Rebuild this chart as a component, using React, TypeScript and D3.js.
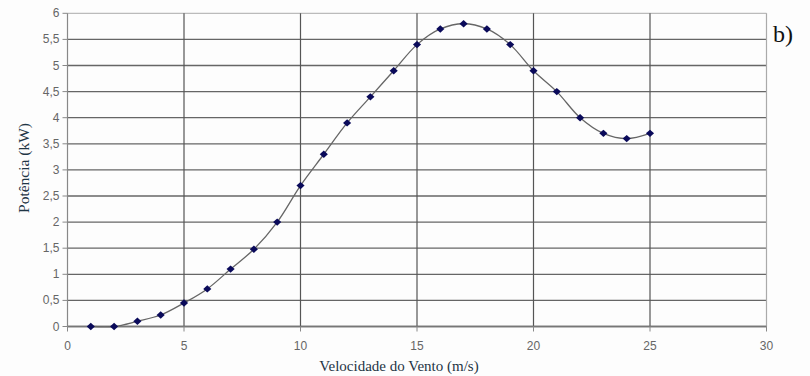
import React from "react";
import * as d3 from "d3";

const windSpeed = [1, 2, 3, 4, 5, 6, 7, 8, 9, 10, 11, 12, 13, 14, 15, 16, 17, 18, 19, 20, 21, 22, 23, 24, 25];
const power = [0, 0, 0.1, 0.22, 0.45, 0.72, 1.1, 1.48, 2.0, 2.7, 3.3, 3.9, 4.4, 4.9, 5.4, 5.7, 5.8, 5.7, 5.4, 4.9, 4.5, 4.0, 3.7, 3.6, 3.7];
const xTicks = [0, 5, 10, 15, 20, 25, 30];
const yTicks = [0, 0.5, 1, 1.5, 2, 2.5, 3, 3.5, 4, 4.5, 5, 5.5, 6];
const xTitle = "Velocidade do Vento (m/s)";
const yTitle = "Potência (kW)";
const panelLabel = "b)";

const W = 810;
const H = 376;
const L = 67.5;
const R = 766.5;
const T = 13.3;
const B = 326.5;
const SERIF = "'Liberation Serif', 'Times New Roman', serif";
const SANS = "'Liberation Sans', Arial, sans-serif";

export default function App() {
  const x = d3.scaleLinear().domain([0, 30]).range([L, R]);
  const y = d3.scaleLinear().domain([0, 6]).range([B, T]);
  const pts = windSpeed.map((v, i) => [v, power[i]] as [number, number]);
  const line = d3
    .line<[number, number]>()
    .x((d) => x(d[0]))
    .y((d) => y(d[1]))
    .curve(d3.curveCatmullRom.alpha(0.5));
  const fmt = (v: number) => String(v).replace(".", ",");
  const marker = d3.symbol(d3.symbolSquare, 30)() || "";
  return (
    <svg width={W} height={H} style={{ position: "absolute", left: 0, top: 0, background: "#fff" }}>
      <rect x={0} y={0} width={W} height={H} fill="#fdfdfd" />
      {yTicks.map((t) => (
        <line key={"h" + t} x1={L} x2={R} y1={y(t)} y2={y(t)} stroke={t === 6 ? "#bbb" : "#666"} strokeWidth={1.3} />
      ))}
      {xTicks.filter((t) => t > 0 && t < 30).map((t) => (
        <line key={"v" + t} x1={x(t)} x2={x(t)} y1={T} y2={B} stroke="#555" strokeWidth={1.2} />
      ))}
      <line x1={R} x2={R} y1={T} y2={B} stroke="#aaa" strokeWidth={1.2} />
      <line x1={L} x2={L} y1={T} y2={B} stroke="#888" strokeWidth={1.2} />
      <line x1={L} x2={R} y1={B} y2={B} stroke="#777" strokeWidth={1.3} />
      {yTicks.map((t) => (
        <g key={"yt" + t}>
          <line x1={L - 5} x2={L} y1={y(t)} y2={y(t)} stroke="#888" strokeWidth={1} />
          <text x={L - 8} y={y(t) + 4} textAnchor="end" fontFamily={SANS} fontSize={12} fill="#666">
            {fmt(t)}
          </text>
        </g>
      ))}
      {xTicks.map((t) => (
        <g key={"xt" + t}>
          <line x1={x(t)} x2={x(t)} y1={B} y2={B + 5} stroke="#888" strokeWidth={1} />
          <text x={x(t)} y={B + 23} textAnchor="middle" fontFamily={SANS} fontSize={12} fill="#666">
            {fmt(t)}
          </text>
        </g>
      ))}
      <path d={line(pts) || ""} fill="none" stroke="#666" strokeWidth={1.3} />
      {pts.map((p, i) => (
        <path
          key={"m" + i}
          d={marker}
          transform={`translate(${x(p[0])},${y(p[1])}) scale(1.05,0.95) rotate(45)`}
          fill="#0a0a5a"
        />
      ))}
      <text x={399} y={371} textAnchor="middle" fontFamily={SERIF} fontSize={15} fill="#1f3545">
        {xTitle}
      </text>
      <text transform={`translate(29,168) rotate(-90)`} textAnchor="middle" fontFamily={SERIF} fontSize={15.5} fill="#1f3545">
        {yTitle}
      </text>
      <text x={773} y={42} fontFamily={SERIF} fontSize={24} fill="#111">
        {panelLabel}
      </text>
    </svg>
  );
}
